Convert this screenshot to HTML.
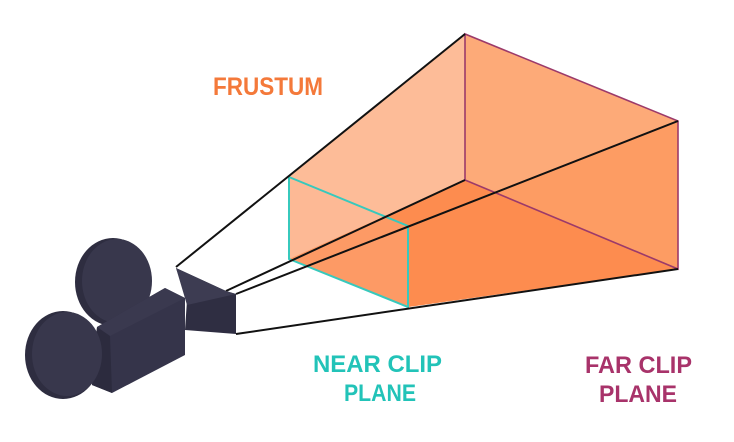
<!DOCTYPE html>
<html><head><meta charset="utf-8"><style>
html,body{margin:0;padding:0;background:#fff;}
svg{display:block;}
text{font-family:"Liberation Sans",sans-serif;font-weight:bold;}
</style></head><body>
<svg width="734" height="442" viewBox="0 0 734 442" xmlns="http://www.w3.org/2000/svg">
<rect width="734" height="442" fill="#fff"/>
<polygon points="289,177 465,34 465,180 289,259" fill="#fdbc98"/>
<polygon points="465,34 678,121 678,269 465,180" fill="#fdaa78"/>
<polygon points="408,226 678,121 678,269 408,307" fill="#fd9c63"/>
<polygon points="289,259 465,180 678,269 408,307" fill="#fd8c4f"/>
<polygon points="289,177 408,226 408,307 289,259" fill="#fdb48e" opacity="0.35"/>
<g stroke="#9c3a6a" stroke-width="1.6" fill="none">
<polyline points="465,180 465,34 678,121 678,269 465,180"/>
</g>
<polygon points="289,177 408,226 408,307 289,259" fill="none" stroke="#37c9bd" stroke-width="2"/>
<g stroke="#111" stroke-width="2" fill="none">
<line x1="176" y1="267" x2="465" y2="34"/>
<line x1="226" y1="291" x2="465" y2="180"/>
<line x1="236" y1="294" x2="678" y2="121"/>
<line x1="236" y1="334" x2="678" y2="269"/>
</g>
<g>
<polygon points="176,268 226,291 236,294 236,334 185,330 187,300" fill="#2f2e42"/>
<polygon points="176,268 226,291 236,294 187,305" fill="#3d3c52"/>
<ellipse cx="113" cy="282" rx="38" ry="44" fill="#2e2d40"/>
<ellipse cx="117" cy="281" rx="35" ry="42" fill="#38374c"/>
<polygon points="97,327 165,288 185,298 185,355 112,393 92,385" fill="#35344a"/>
<polygon points="97,327 165,288 185,298 110,336" fill="#3a394f"/>
<polygon points="92,385 97,327 110,336 112,393" fill="#2c2b3e"/>
<ellipse cx="63" cy="355" rx="38" ry="44" fill="#2e2d40"/>
<ellipse cx="67" cy="354" rx="35" ry="42" fill="#38374c"/>
</g>
<text x="213" y="95" font-size="25" fill="#f4793a" textLength="110" lengthAdjust="spacingAndGlyphs">FRUSTUM</text>
<text x="313" y="372" font-size="24" fill="#22c3b8" textLength="129" lengthAdjust="spacingAndGlyphs">NEAR CLIP</text>
<text x="344" y="401" font-size="24" fill="#22c3b8" textLength="72" lengthAdjust="spacingAndGlyphs">PLANE</text>
<text x="585" y="373" font-size="24" fill="#a8336a" textLength="107" lengthAdjust="spacingAndGlyphs">FAR CLIP</text>
<text x="599" y="402" font-size="24" fill="#a8336a" textLength="78" lengthAdjust="spacingAndGlyphs">PLANE</text>
</svg>
</body></html>
